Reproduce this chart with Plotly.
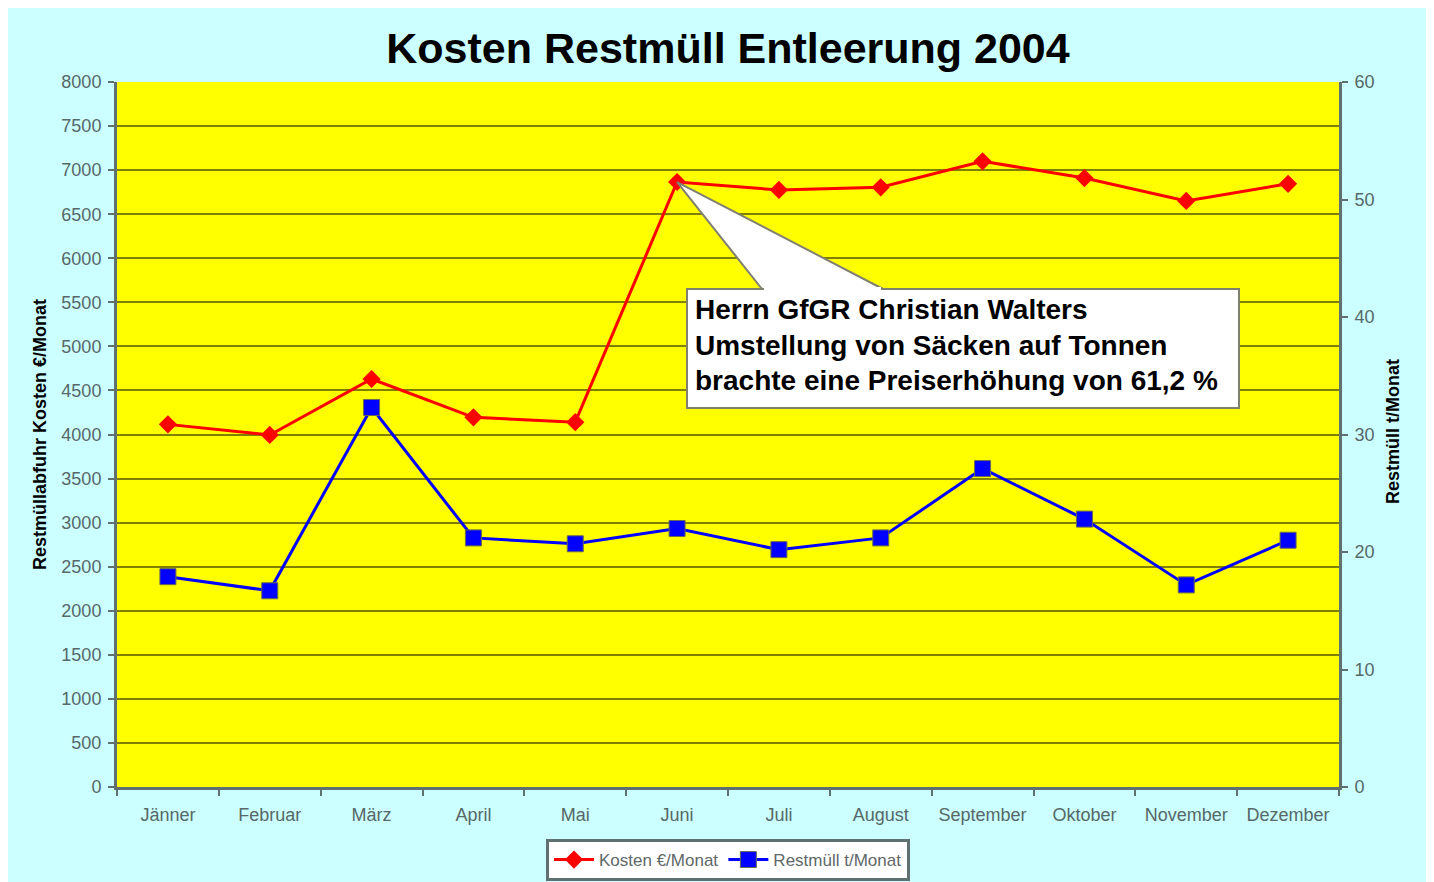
import plotly.graph_objects as go

months = ["Jänner", "Februar", "März", "April", "Mai", "Juni", "Juli",
          "August", "September", "Oktober", "November", "Dezember"]
kosten = [4115, 3995, 4630, 4195, 4140, 6865, 6775, 6805, 7100, 6910, 6650, 6845]
restmuell = [17.9, 16.7, 32.3, 21.2, 20.7, 22.0, 20.2, 21.2, 27.1, 22.8, 17.2, 21.0]

left_ticks = list(range(0, 8001, 500))
right_ticks = list(range(0, 61, 10))

title_text = "Kosten Restmüll Entleerung 2004"
callout_lines = ["Herrn GfGR Christian Walters",
                 "Umstellung von Säcken auf Tonnen",
                 "brachte eine Preiserhöhung von 61,2 %"]

OFF = 8  # page body margin
W, H = 1420, 874
# plot area in screen pixels
SL, SR, ST, SB = 117, 1339, 82, 787
L, R, T, B = SL - OFF, SR - OFF, ST - OFF, SB - OFF
pw, ph = R - L, B - T


def px(x):
    """screen x pixel -> paper"""
    return (x - OFF - L) / pw


def py(y):
    """screen y pixel -> paper"""
    return (B - (y - OFF)) / ph


FONT = "Liberation Sans, Arial, sans-serif"
TICKC = "#566868"
AXC = "#607070"
GRIDC = "#808000"

fig = go.Figure()
fig.add_trace(go.Scatter(
    x=months, y=kosten, name="Kosten €/Monat", mode="lines+markers",
    line=dict(color="#ff0000", width=3),
    marker=dict(symbol="diamond", size=14, color="#ff0000"),
    yaxis="y"))
fig.add_trace(go.Scatter(
    x=months, y=restmuell, name="Restmüll t/Monat", mode="lines+markers",
    line=dict(color="#0000ff", width=3),
    marker=dict(symbol="square", size=16, color="#0000ff",
                line=dict(color="#6a6a50", width=1)),
    yaxis="y2"))

shapes = []
# callout box
bx0, bx1, by0, by1 = 687, 1239, 289, 408
shapes.append(dict(type="rect", xref="paper", yref="paper",
                   x0=px(bx0), x1=px(bx1), y0=py(by1), y1=py(by0),
                   fillcolor="white", line=dict(color="#808070", width=2), layer="above"))
# wedge tip from data point (Juni)
ji = months.index("Juni")
tipx = (ji + 0.5) / len(months)
tipy = kosten[ji] / left_ticks[-1]
lx, rx, wy = 762, 883, 289
path = f"M {tipx},{tipy} L {px(lx)},{py(wy)} L {px(rx)},{py(wy)} Z"
shapes.append(dict(type="path", xref="paper", yref="paper", path=path,
                   fillcolor="white", line=dict(color="#808070", width=2), layer="above"))
shapes.append(dict(type="line", xref="paper", yref="paper",
                   x0=px(lx + 2), x1=px(rx - 2), y0=py(wy), y1=py(wy),
                   line=dict(color="white", width=4), layer="above"))

annotations = []
for i, t in enumerate(callout_lines):
    annotations.append(dict(
        text=t, xref="paper", yref="paper", x=px(693), y=py(309 + i * 36),
        xanchor="left", yanchor="middle", showarrow=False,
        font=dict(family=FONT, size=28, color="black", weight="bold")))
annotations.append(dict(
    text="Restmüllabfuhr Kosten €/Monat", xref="paper", yref="paper",
    x=px(40), y=py(435), textangle=-90, showarrow=False,
    xanchor="center", yanchor="middle",
    font=dict(family=FONT, size=18, color="black", weight="bold")))
annotations.append(dict(
    text="Restmüll t/Monat", xref="paper", yref="paper",
    x=px(1393), y=py(432), textangle=-90, showarrow=False,
    xanchor="center", yanchor="middle",
    font=dict(family=FONT, size=18, color="black", weight="bold")))

fig.update_layout(
    width=W, height=H,
    margin=dict(l=L, r=W - R, t=T, b=H - B, autoexpand=False),
    paper_bgcolor="#ccffff", plot_bgcolor="#ffff00",
    title=dict(text=title_text, x=0.5, xref="paper", xanchor="center",
               y=1 - (48 - OFF) / H, yref="container", yanchor="middle",
               font=dict(family=FONT, size=43, color="black", weight="bold")),
    xaxis=dict(type="category", range=[-0.5, len(months) - 0.5],
               tickson="boundaries", ticks="outside", ticklen=6, tickwidth=2,
               tickcolor=AXC, showline=True, linecolor=AXC, linewidth=3,
               showgrid=False, tickfont=dict(family=FONT, size=18, color=TICKC),
               tickangle=0, ticklabelstandoff=9, fixedrange=True,
               automargin=False),
    yaxis=dict(range=[0, left_ticks[-1]], tickvals=left_ticks, ticks="outside",
               ticklen=6, tickwidth=2, tickcolor=AXC, showline=True,
               linecolor=AXC, linewidth=3, showgrid=True, gridcolor=GRIDC,
               gridwidth=2, zeroline=False, ticklabelstandoff=3,
               automargin=False,
               tickfont=dict(family=FONT, size=18, color=TICKC)),
    yaxis2=dict(range=[0, right_ticks[-1]], tickvals=right_ticks, overlaying="y",
                side="right", ticks="outside", ticklen=6, tickwidth=2,
                tickcolor=AXC, showline=True, linecolor=AXC, linewidth=3,
                showgrid=False, zeroline=False, ticklabelstandoff=3,
                automargin=False,
                tickfont=dict(family=FONT, size=18, color=TICKC)),
    legend=dict(orientation="h", x=px(728), xanchor="center", xref="paper",
                y=py(881), yanchor="bottom", yref="paper",
                bgcolor="white", bordercolor=AXC, borderwidth=3,
                font=dict(family=FONT, size=17, color="#606868"),
                itemwidth=40, tracegroupgap=0),
    shapes=shapes, annotations=annotations,
    showlegend=True,
)

fig.write_html("out.html")
